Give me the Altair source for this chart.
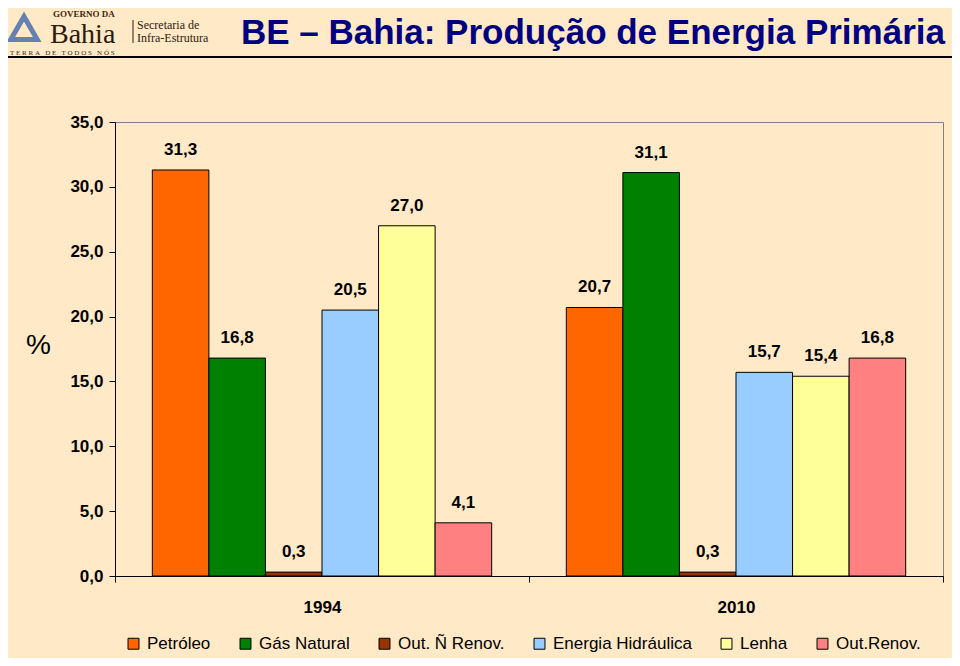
import altair as alt
import pandas as pd

# ---- data ----
anos = ["1994", "2010"]
fontes = ["Petróleo", "Gás Natural", "Out. Ñ Renov.", "Energia Hidráulica", "Lenha", "Out.Renov."]
valores_1994 = [31.3, 16.8, 0.3, 20.5, 27.0, 4.1]
valores_2010 = [20.7, 31.1, 0.3, 15.7, 15.4, 16.8]
cores = ["#FF6600", "#008000", "#993300", "#99CCFF", "#FFFF99", "#FF8080"]
y_ticks = [0, 5, 10, 15, 20, 25, 30, 35]

rows = []
for ano, vals in zip(anos, [valores_1994, valores_2010]):
    for f, v in zip(fontes, vals):
        rows.append({"ano": ano, "fonte": f, "valor": v,
                     "rotulo": f"{v:.1f}".replace(".", ",")})
df = pd.DataFrame(rows)

FONT = "Liberation Sans"
SERIF = "Liberation Serif"
BG = "#FFE9C6"
W, H = 828, 454
NB = "\u00a0"

base = alt.Chart(df).encode(
    x=alt.X("ano:N", title=None,
            scale=alt.Scale(paddingInner=0, paddingOuter=0),
            axis=alt.Axis(labelAngle=0, labelFont=FONT, labelFontSize=17,
                          labelFontWeight="bold", labelColor="black",
                          domainColor="black", tickColor="black", tickSize=6,
                          tickBand="extent", labelPadding=17, grid=False)),
    xOffset=alt.XOffset("fonte:N", sort=fontes,
                        scale=alt.Scale(domain=fontes, paddingInner=0, paddingOuter=0.66)),
    y=alt.Y("valor:Q", scale=alt.Scale(domain=[0, 35], nice=False),
            axis=alt.Axis(values=y_ticks, grid=False,
                          labelExpr="replace(format(datum.value, '.1f'), '.', ',')",
                          labelFont=FONT, labelFontSize=17, labelFontWeight="bold",
                          labelColor="black", labelPadding=6,
                          domainColor="black", tickColor="black", tickSize=6,
                          title="%", titleAngle=0, titleFont=FONT, titleFontSize=28,
                          titleFontWeight="normal", titleColor="black",
                          titleX=-77, titleY=223, titleAlign="center",
                          titleBaseline="middle")),
)

bars = base.mark_bar(stroke="black", strokeWidth=1).encode(
    color=alt.Color("fonte:N", sort=fontes,
                    scale=alt.Scale(domain=fontes, range=cores),
                    legend=alt.Legend(title=None, orient="none", direction="horizontal",
                                      legendX=10, legendY=513,
                                      symbolType="square", symbolSize=120,
                                      symbolStrokeColor="black", symbolStrokeWidth=1,
                                      labelFont=FONT, labelFontSize=17, labelColor="black",
                                      labelOffset=5, columnPadding=26, columns=6))
)

labels = base.mark_text(dy=-20, font=FONT, fontSize=17, fontWeight="bold",
                        color="black", baseline="middle").encode(text="rotulo:N")

one = alt.Data(values=[{"k": 1}])

title = alt.Chart(one).mark_text(font=FONT, fontSize=35, fontWeight="bold",
                                 color="#000080", align="right", baseline="middle").encode(
    x=alt.value(830), y=alt.value(-89), text=alt.value("BE – Bahia: Produção de Energia Primária"))

sep = alt.Chart(one).mark_rule(color="black", strokeWidth=2).encode(
    x=alt.value(-107), x2=alt.value(837), y=alt.value(-65))

logo_tri = alt.Chart(one).mark_point(shape="triangle-up", filled=False, color="#2356A8",
                                     strokeWidth=5, size=700).encode(
    x=alt.value(-91), y=alt.value(-94))
gov = alt.Chart(one).mark_text(font=SERIF, fontSize=9, fontWeight="bold", color="#3D2614",
                               align="left", baseline="middle").encode(
    x=alt.value(-62), y=alt.value(-108), text=alt.value("GOVERNO DA"))
bahia = alt.Chart(one).mark_text(font=SERIF, fontSize=28, color="#2B1B0E",
                                 align="left", baseline="middle").encode(
    x=alt.value(-65), y=alt.value(-87), text=alt.value("Bahia"))
bar_sep = alt.Chart(one).mark_rule(color="#2B1B0E", strokeWidth=1).encode(
    x=alt.value(18), y=alt.value(-102), y2=alt.value(-79))
sec1 = alt.Chart(one).mark_text(font=SERIF, fontSize=12, color="#2B1B0E",
                                align="left", baseline="middle").encode(
    x=alt.value(22), y=alt.value(-97), text=alt.value("Secretaria de"))
sec2 = alt.Chart(one).mark_text(font=SERIF, fontSize=12, color="#2B1B0E",
                                align="left", baseline="middle").encode(
    x=alt.value(22), y=alt.value(-84), text=alt.value("Infra-Estrutura"))
terra_txt = (NB * 3).join(NB.join(w) for w in ["TERRA", "DE", "TODOS", "NÓS"])
terra = alt.Chart(one).mark_text(font=SERIF, fontSize=7, color="#3D2614",
                                 align="left", baseline="middle").encode(
    x=alt.value(-105), y=alt.value(-69), text=alt.value(terra_txt))

chart = alt.layer(bars, labels, title, sep, logo_tri, gov, bahia, bar_sep, sec1, sec2, terra).properties(
    width=W, height=H,
    autosize=alt.AutoSizeParams(type="none"),
    padding={"left": 107, "top": 114, "right": 9, "bottom": 82},
).configure(background=BG).configure_view(stroke="#808080", strokeWidth=1)

chart.save("out.html", embed_options={"renderer": "svg", "actions": False})
